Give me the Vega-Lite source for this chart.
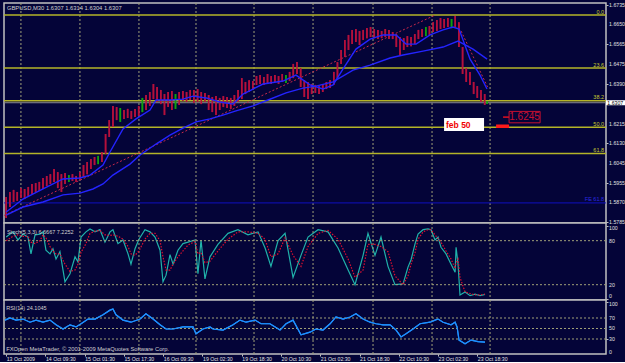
{
"$schema": "https://vega.github.io/schema/vega-lite/v6.json",
"background": "#040438",
"padding": {"left": 1, "top": 1, "right": 0, "bottom": 0},
"spacing": 0,
"bounds": "flush",
"config": {
 "view": {"stroke": "#c0c0c0", "strokeWidth": 1.5, "fill": "#040438"},
 "axis": {"labelFont": "Liberation Sans", "labelFontSize": 5.2, "labelColor": "#e0e0e0", "tickColor": "#c0c0c0", "tickSize": 2, "domain": false, "grid": false, "labelOverlap": false},
 "text": {"font": "Liberation Sans"}
},
"datasets": {
 "grid": [{"b": 12.0}, {"b": 60.1}, {"b": 108.2}, {"b": 154.7}, {"b": 202.0}, {"b": 250.1}, {"b": 299.0}, {"b": 347.1}, {"b": 394.4}],
 "fib": [{"t": "0.0", "p": 1.6691}, {"t": "23.6", "p": 1.6459}, {"t": "38.2", "p": 1.6316}, {"t": "50.0", "p": 1.6200}, {"t": "61.8", "p": 1.6084}],
 "trend": [{"g": "a", "b": -1.8, "p": 1.5813}, {"g": "a", "b": 349.6, "p": 1.6691}, {"g": "b", "b": 370.8, "p": 1.6621}, {"g": "b", "b": 392.8, "p": 1.6371}],
 "ylab": [{"v": 1.6735}, {"v": 1.665}, {"v": 1.6565}, {"v": 1.6475}, {"v": 1.639}, {"v": 1.6215}, {"v": 1.613}, {"v": 1.6045}, {"v": 1.5955}, {"v": 1.587}, {"v": 1.5785}],
 "bars": [
  {"b":0,"h":1.5894,"l":1.5802,"c":"d"},{"b":3,"h":1.5916,"l":1.5850,"c":"d"},{"b":6,"h":1.5925,"l":1.5872,"c":"d"},{"b":9,"h":1.5916,"l":1.5877,"c":"d"},
  {"b":12,"h":1.5933,"l":1.5890,"c":"d"},{"b":15,"h":1.5929,"l":1.5885,"c":"d"},{"b":18,"h":1.5938,"l":1.5898,"c":"d"},{"b":21,"h":1.5951,"l":1.5907,"c":"d"},
  {"b":24,"h":1.5955,"l":1.5916,"c":"d"},{"b":27,"h":1.5960,"l":1.5920,"c":"d"},{"b":30,"h":1.5977,"l":1.5929,"c":"d"},{"b":33,"h":1.5986,"l":1.5942,"c":"d"},
  {"b":36,"h":1.5994,"l":1.5951,"c":"d"},{"b":39,"h":1.6017,"l":1.5960,"c":"d"},{"b":42,"h":1.6003,"l":1.5933,"c":"d"},{"b":45,"h":1.5994,"l":1.5916,"c":"d"},
  {"b":48,"h":1.5999,"l":1.5951,"c":"d"},{"b":51,"h":1.5990,"l":1.5960,"c":"u"},{"b":54,"h":1.5994,"l":1.5964,"c":"d"},{"b":57,"h":1.5986,"l":1.5960,"c":"d"},
  {"b":60,"h":1.6003,"l":1.5968,"c":"d"},{"b":63,"h":1.6034,"l":1.5982,"c":"d"},{"b":66,"h":1.6047,"l":1.5994,"c":"d"},{"b":69,"h":1.6060,"l":1.6017,"c":"d"},
  {"b":72,"h":1.6069,"l":1.6034,"c":"d"},{"b":75,"h":1.6074,"l":1.6038,"c":"u"},{"b":78,"h":1.6091,"l":1.6047,"c":"d"},{"b":81,"h":1.6170,"l":1.6082,"c":"d"},
  {"b":84,"h":1.6231,"l":1.6157,"c":"d"},{"b":87,"h":1.6293,"l":1.6201,"c":"d"},{"b":90,"h":1.6288,"l":1.6231,"c":"d"},{"b":93,"h":1.6284,"l":1.6223,"c":"u"},
  {"b":96,"h":1.6275,"l":1.6236,"c":"d"},{"b":99,"h":1.6280,"l":1.6240,"c":"d"},{"b":102,"h":1.6271,"l":1.6236,"c":"d"},{"b":105,"h":1.6280,"l":1.6244,"c":"d"},
  {"b":108,"h":1.6293,"l":1.6249,"c":"d"},{"b":111,"h":1.6328,"l":1.6266,"c":"u"},{"b":114,"h":1.6341,"l":1.6275,"c":"d"},{"b":117,"h":1.6354,"l":1.6293,"c":"d"},
  {"b":120,"h":1.6389,"l":1.6323,"c":"d"},{"b":123,"h":1.6376,"l":1.6310,"c":"d"},{"b":126,"h":1.6363,"l":1.6301,"c":"d"},{"b":129,"h":1.6345,"l":1.6253,"c":"d"},
  {"b":132,"h":1.6354,"l":1.6288,"c":"d"},{"b":135,"h":1.6358,"l":1.6275,"c":"d"},{"b":138,"h":1.6345,"l":1.6280,"c":"u"},{"b":141,"h":1.6354,"l":1.6297,"c":"d"},
  {"b":144,"h":1.6358,"l":1.6315,"c":"d"},{"b":147,"h":1.6354,"l":1.6310,"c":"d"},{"b":150,"h":1.6363,"l":1.6319,"c":"d"},{"b":153,"h":1.6363,"l":1.6306,"c":"d"},
  {"b":156,"h":1.6367,"l":1.6310,"c":"d"},{"b":159,"h":1.6354,"l":1.6301,"c":"d"},{"b":162,"h":1.6350,"l":1.6310,"c":"d"},{"b":165,"h":1.6341,"l":1.6275,"c":"d"},
  {"b":168,"h":1.6332,"l":1.6266,"c":"d"},{"b":171,"h":1.6336,"l":1.6253,"c":"d"},{"b":174,"h":1.6328,"l":1.6275,"c":"d"},{"b":177,"h":1.6336,"l":1.6288,"c":"d"},
  {"b":180,"h":1.6332,"l":1.6284,"c":"d"},{"b":183,"h":1.6328,"l":1.6280,"c":"d"},{"b":186,"h":1.6341,"l":1.6293,"c":"d"},{"b":189,"h":1.6363,"l":1.6310,"c":"d"},
  {"b":192,"h":1.6415,"l":1.6323,"c":"d"},{"b":195,"h":1.6398,"l":1.6345,"c":"d"},{"b":198,"h":1.6406,"l":1.6354,"c":"d"},{"b":201,"h":1.6402,"l":1.6363,"c":"d"},
  {"b":204,"h":1.6424,"l":1.6385,"c":"d"},{"b":207,"h":1.6428,"l":1.6389,"c":"d"},{"b":210,"h":1.6420,"l":1.6385,"c":"d"},{"b":213,"h":1.6433,"l":1.6393,"c":"d"},
  {"b":216,"h":1.6424,"l":1.6389,"c":"d"},{"b":219,"h":1.6428,"l":1.6398,"c":"d"},{"b":222,"h":1.6424,"l":1.6389,"c":"d"},{"b":225,"h":1.6433,"l":1.6398,"c":"d"},
  {"b":228,"h":1.6428,"l":1.6393,"c":"u"},{"b":231,"h":1.6442,"l":1.6402,"c":"d"},{"b":234,"h":1.6477,"l":1.6415,"c":"d"},{"b":237,"h":1.6485,"l":1.6433,"c":"d"},
  {"b":240,"h":1.6459,"l":1.6376,"c":"d"},{"b":243,"h":1.6406,"l":1.6332,"c":"d"},{"b":246,"h":1.6398,"l":1.6323,"c":"d"},{"b":249,"h":1.6389,"l":1.6345,"c":"d"},
  {"b":252,"h":1.6385,"l":1.6350,"c":"d"},{"b":255,"h":1.6380,"l":1.6345,"c":"d"},{"b":258,"h":1.6389,"l":1.6354,"c":"d"},{"b":261,"h":1.6398,"l":1.6367,"c":"d"},
  {"b":264,"h":1.6406,"l":1.6371,"c":"d"},{"b":267,"h":1.6442,"l":1.6385,"c":"d"},{"b":270,"h":1.6485,"l":1.6415,"c":"d"},{"b":273,"h":1.6538,"l":1.6477,"c":"d"},
  {"b":276,"h":1.6582,"l":1.6507,"c":"d"},{"b":279,"h":1.6604,"l":1.6538,"c":"d"},{"b":282,"h":1.6626,"l":1.6564,"c":"d"},{"b":285,"h":1.6630,"l":1.6573,"c":"d"},
  {"b":288,"h":1.6621,"l":1.6560,"c":"d"},{"b":291,"h":1.6626,"l":1.6582,"c":"d"},{"b":294,"h":1.6634,"l":1.6590,"c":"d"},{"b":297,"h":1.6639,"l":1.6595,"c":"d"},
  {"b":300,"h":1.6630,"l":1.6590,"c":"d"},{"b":303,"h":1.6626,"l":1.6586,"c":"d"},{"b":306,"h":1.6621,"l":1.6590,"c":"d"},{"b":309,"h":1.6630,"l":1.6595,"c":"d"},
  {"b":312,"h":1.6626,"l":1.6586,"c":"d"},{"b":315,"h":1.6617,"l":1.6586,"c":"d"},{"b":318,"h":1.6608,"l":1.6551,"c":"d"},{"b":321,"h":1.6595,"l":1.6516,"c":"d"},
  {"b":324,"h":1.6590,"l":1.6538,"c":"d"},{"b":327,"h":1.6599,"l":1.6551,"c":"d"},{"b":330,"h":1.6595,"l":1.6555,"c":"d"},{"b":333,"h":1.6608,"l":1.6564,"c":"d"},
  {"b":336,"h":1.6626,"l":1.6586,"c":"d"},{"b":339,"h":1.6630,"l":1.6595,"c":"d"},{"b":342,"h":1.6639,"l":1.6599,"c":"u"},{"b":345,"h":1.6643,"l":1.6604,"c":"d"},
  {"b":348,"h":1.6660,"l":1.6617,"c":"d"},{"b":351,"h":1.6669,"l":1.6621,"c":"d"},{"b":354,"h":1.6678,"l":1.6630,"c":"d"},{"b":357,"h":1.6674,"l":1.6634,"c":"d"},
  {"b":360,"h":1.6678,"l":1.6639,"c":"d"},{"b":363,"h":1.6674,"l":1.6634,"c":"u"},{"b":366,"h":1.6687,"l":1.6639,"c":"d"},{"b":369,"h":1.6660,"l":1.6551,"c":"d"},
  {"b":372,"h":1.6551,"l":1.6433,"c":"d"},{"b":375,"h":1.6459,"l":1.6398,"c":"d"},{"b":378,"h":1.6442,"l":1.6385,"c":"d"},{"b":381,"h":1.6398,"l":1.6345,"c":"d"},
  {"b":384,"h":1.6380,"l":1.6328,"c":"d"},{"b":387,"h":1.6363,"l":1.6310,"c":"d"},{"b":390,"h":1.6345,"l":1.6297,"c":"d"},{"b":392,"h":1.6315,"l":1.6301,"c":"u"}
 ],
 "ma": [
  {"s":"f","b":0,"p":1.5828},{"s":"f","b":13.7,"p":1.5885},{"s":"f","b":30,"p":1.5929},{"s":"f","b":46.3,"p":1.5973},{"s":"f","b":60.1,"p":1.5977},
  {"s":"f","b":68.3,"p":1.5990},{"s":"f","b":78.9,"p":1.6034},{"s":"f","b":84.6,"p":1.6091},{"s":"f","b":95.2,"p":1.6192},{"s":"f","b":105.8,"p":1.6236},
  {"s":"f","b":117.2,"p":1.6275},{"s":"f","b":122.1,"p":1.6319},{"s":"f","b":133.5,"p":1.6319},{"s":"f","b":144.1,"p":1.6323},{"s":"f","b":152.3,"p":1.6336},
  {"s":"f","b":162.9,"p":1.6328},{"s":"f","b":174.3,"p":1.6310},{"s":"f","b":184.9,"p":1.6301},{"s":"f","b":193,"p":1.6345},{"s":"f","b":201.2,"p":1.6367},
  {"s":"f","b":209.3,"p":1.6389},{"s":"f","b":225.6,"p":1.6402},{"s":"f","b":236.2,"p":1.6428},{"s":"f","b":247.6,"p":1.6385},{"s":"f","b":258.2,"p":1.6367},
  {"s":"f","b":266.4,"p":1.6385},{"s":"f","b":274.6,"p":1.6455},{"s":"f","b":285.1,"p":1.6542},{"s":"f","b":296.6,"p":1.6586},{"s":"f","b":307.2,"p":1.6604},
  {"s":"f","b":317.8,"p":1.6604},{"s":"f","b":325.9,"p":1.6564},{"s":"f","b":334.1,"p":1.6564},{"s":"f","b":345.5,"p":1.6604},{"s":"f","b":356.1,"p":1.6626},
  {"s":"f","b":364.2,"p":1.6639},{"s":"f","b":369.1,"p":1.6630},{"s":"f","b":378.1,"p":1.6498},{"s":"f","b":386.2,"p":1.6428},{"s":"f","b":391.9,"p":1.6367},
  {"s":"s","b":0,"p":1.5815},{"s":"s","b":13.7,"p":1.5850},{"s":"s","b":30,"p":1.5872},{"s":"s","b":46.3,"p":1.5903},{"s":"s","b":60.1,"p":1.5911},
  {"s":"s","b":70.7,"p":1.5929},{"s":"s","b":78.9,"p":1.5951},{"s":"s","b":87,"p":1.5990},{"s":"s","b":100.9,"p":1.6038},{"s":"s","b":109.1,"p":1.6078},
  {"s":"s","b":122.1,"p":1.6126},{"s":"s","b":133.5,"p":1.6165},{"s":"s","b":144.1,"p":1.6196},{"s":"s","b":154.7,"p":1.6223},{"s":"s","b":166.1,"p":1.6236},
  {"s":"s","b":176.7,"p":1.6253},{"s":"s","b":187.3,"p":1.6271},{"s":"s","b":201.2,"p":1.6293},{"s":"s","b":213.4,"p":1.6319},{"s":"s","b":228.1,"p":1.6350},
  {"s":"s","b":241.9,"p":1.6371},{"s":"s","b":252.5,"p":1.6380},{"s":"s","b":266.4,"p":1.6398},{"s":"s","b":282.7,"p":1.6450},{"s":"s","b":296.6,"p":1.6472},
  {"s":"s","b":312.9,"p":1.6503},{"s":"s","b":323.5,"p":1.6516},{"s":"s","b":339.8,"p":1.6533},{"s":"s","b":356.1,"p":1.6551},{"s":"s","b":368.3,"p":1.6577},
  {"s":"s","b":380.5,"p":1.6542},{"s":"s","b":392,"p":1.6498}
 ],
 "stoch": [
  {"b":0,"k":85,"d":80},{"b":5.5,"k":92,"d":86},{"b":9.6,"k":81,"d":88},{"b":13.7,"k":89,"d":86},{"b":17.7,"k":85,"d":86},{"b":20.2,"k":62,"d":78},
  {"b":23.5,"k":88,"d":76},{"b":27.5,"k":89,"d":80},{"b":30,"k":92,"d":88},{"b":32.4,"k":67,"d":84},{"b":35.7,"k":62,"d":72},{"b":38.1,"k":69,"d":66},
  {"b":40.6,"k":55,"d":62},{"b":43.8,"k":65,"d":62},{"b":47.9,"k":24,"d":48},{"b":52,"k":35,"d":38},{"b":56.1,"k":58,"d":40},{"b":58.5,"k":51,"d":48},
  {"b":61,"k":85,"d":64},{"b":65,"k":92,"d":76},{"b":68.3,"k":96,"d":90},{"b":72.4,"k":92,"d":93},{"b":76.4,"k":95,"d":94},{"b":80.5,"k":78,"d":88},
  {"b":84.6,"k":92,"d":87},{"b":87,"k":95,"d":88},{"b":91.1,"k":76,"d":86},{"b":95.2,"k":81,"d":82},{"b":99.3,"k":62,"d":72},{"b":101.7,"k":48,"d":62},
  {"b":105,"k":69,"d":60},{"b":108.2,"k":82,"d":66},{"b":113.1,"k":95,"d":82},{"b":117.2,"k":92,"d":90},{"b":121.3,"k":85,"d":90},{"b":125.4,"k":67,"d":80},
  {"b":127.8,"k":24,"d":58},{"b":130.3,"k":33,"d":40},{"b":133.5,"k":61,"d":40},{"b":136,"k":48,"d":48},{"b":140,"k":67,"d":58},{"b":144.1,"k":76,"d":66},
  {"b":148.2,"k":78,"d":74},{"b":153.9,"k":81,"d":79},{"b":156.3,"k":35,"d":62},{"b":158.8,"k":81,"d":64},{"b":162,"k":28,"d":50},{"b":166.1,"k":58,"d":52},
  {"b":172.6,"k":75,"d":66},{"b":180.8,"k":90,"d":82},{"b":188.9,"k":95,"d":92},{"b":197.1,"k":88,"d":92},{"b":205.3,"k":92,"d":90},{"b":211,"k":70,"d":82},
  {"b":215.8,"k":45,"d":58},{"b":221.6,"k":80,"d":62},{"b":227.3,"k":90,"d":84},{"b":233.8,"k":30,"d":60},{"b":240.3,"k":60,"d":45},{"b":246,"k":85,"d":72},
  {"b":254.2,"k":95,"d":90},{"b":262.3,"k":92,"d":94},{"b":270.5,"k":70,"d":82},{"b":278.7,"k":40,"d":55},{"b":284.3,"k":20,"d":30},{"b":290.9,"k":60,"d":40},
  {"b":294.9,"k":90,"d":75},{"b":300.6,"k":60,"d":75},{"b":305.5,"k":85,"d":72},{"b":311.2,"k":45,"d":65},{"b":316.9,"k":20,"d":32},{"b":323.5,"k":21,"d":20},
  {"b":327.5,"k":44,"d":32},{"b":330,"k":54,"d":48},{"b":333.3,"k":76,"d":64},{"b":335.7,"k":89,"d":82},{"b":339.8,"k":95,"d":92},{"b":343.8,"k":96,"d":95},
  {"b":346.3,"k":95,"d":95},{"b":349.5,"k":81,"d":88},{"b":352,"k":85,"d":83},{"b":354.4,"k":71,"d":78},{"b":358.5,"k":62,"d":66},{"b":362.6,"k":48,"d":55},
  {"b":365.9,"k":37,"d":42},{"b":366.7,"k":71,"d":50},{"b":368.3,"k":48,"d":55},{"b":369.9,"k":6,"d":30},{"b":374,"k":10,"d":10},{"b":378.1,"k":5,"d":8},
  {"b":382.2,"k":7,"d":6},{"b":386.2,"k":5,"d":6},{"b":390.3,"k":6.67,"d":7.23}
 ],
 "rsi": [
  {"b":-1,"r":66},{"b":3.1,"r":70},{"b":8,"r":66},{"b":13.7,"r":68},{"b":19.4,"r":62},{"b":24.3,"r":66},{"b":30,"r":62},{"b":35.7,"r":66},
  {"b":40.6,"r":57},{"b":46.3,"r":49},{"b":52,"r":57},{"b":56.9,"r":53},{"b":61,"r":59},{"b":66.7,"r":68},{"b":72.4,"r":68},{"b":78.9,"r":76},
  {"b":84.6,"r":85},{"b":87,"r":87},{"b":89.5,"r":76},{"b":95.2,"r":66},{"b":101.7,"r":62},{"b":109.1,"r":68},{"b":113.9,"r":78},{"b":119.7,"r":68},
  {"b":125.4,"r":57},{"b":130.3,"r":49},{"b":136,"r":49},{"b":144.1,"r":53},{"b":152.3,"r":53},{"b":154.7,"r":40},{"b":160.4,"r":49},{"b":166.1,"r":53},
  {"b":168.6,"r":49},{"b":176.7,"r":47},{"b":184.9,"r":57},{"b":190.6,"r":66},{"b":195.5,"r":62},{"b":202.8,"r":66},{"b":207.7,"r":59},{"b":215,"r":59},
  {"b":223.2,"r":47},{"b":228.1,"r":59},{"b":233.8,"r":66},{"b":240.3,"r":38},{"b":247.6,"r":43},{"b":252.5,"r":49},{"b":258.2,"r":47},{"b":264,"r":59},
  {"b":268.8,"r":72},{"b":274.6,"r":68},{"b":280.3,"r":72},{"b":285.1,"r":78},{"b":290.9,"r":68},{"b":296.6,"r":62},{"b":301.5,"r":59},{"b":307.2,"r":57},
  {"b":312.9,"r":57},{"b":317.8,"r":47},{"b":321.8,"r":34},{"b":325.9,"r":40},{"b":331.6,"r":49},{"b":337.3,"r":59},{"b":345.5,"r":62},{"b":349.6,"r":66},
  {"b":352,"r":68},{"b":356.1,"r":62},{"b":362.6,"r":57},{"b":365.9,"r":62},{"b":367.5,"r":53},{"b":369.1,"r":28},{"b":374,"r":21},{"b":378.9,"r":28},
  {"b":384.6,"r":25},{"b":390.3,"r":24.1}
 ]
},
"vconcat": [
 {
  "width": 602, "height": 220,
  "layer": [
   {"data": {"name": "bars"}, "mark": {"type": "rule", "strokeWidth": 1.6},
    "encoding": {"x": {"field": "b", "type": "quantitative", "scale": {"domain": [-1.8, 488.9], "nice": false, "zero": false}, "axis": null},
     "y": {"field": "h", "type": "quantitative", "scale": {"domain": [1.5780, 1.6744], "nice": false, "zero": false},
      "axis": {"orient": "right", "title": null, "values": [1.6735, 1.665, 1.6565, 1.6475, 1.639, 1.6215, 1.613, 1.6045, 1.5955, 1.587, 1.5785], "labels": false}},
     "y2": {"field": "l"},
     "color": {"field": "c", "type": "nominal", "scale": {"domain": ["d", "u"], "range": ["#b4103c", "#10a010"]}, "legend": null}}},
   {"data": {"name": "grid"}, "mark": {"type": "rule", "color": "#a0a078", "strokeDash": [2, 2], "strokeWidth": 1},
    "encoding": {"x": {"field": "b", "type": "quantitative", "scale": {"domain": [-1.8, 488.9], "nice": false, "zero": false}, "axis": null}}},
   {"data": {"name": "fib"}, "mark": {"type": "rule", "color": "#b4b428", "strokeWidth": 1.5},
    "encoding": {"y": {"field": "p", "type": "quantitative", "scale": {"domain": [1.5780, 1.6744], "nice": false, "zero": false}}}},
   {"data": {"values": [{"p": 1.5868}]}, "mark": {"type": "rule", "color": "#1010c0", "strokeWidth": 1},
    "encoding": {"y": {"field": "p", "type": "quantitative", "scale": {"domain": [1.5780, 1.6744], "nice": false, "zero": false}}}},
   {"data": {"values": [{"p": 1.6307}]}, "mark": {"type": "rule", "color": "#8c8c8c", "strokeWidth": 1},
    "encoding": {"y": {"field": "p", "type": "quantitative", "scale": {"domain": [1.5780, 1.6744], "nice": false, "zero": false}}}},
   {"data": {"name": "trend"}, "mark": {"type": "line", "color": "#c8284a", "strokeWidth": 1, "strokeDash": [2, 2]},
    "encoding": {"x": {"field": "b", "type": "quantitative", "scale": {"domain": [-1.8, 488.9], "nice": false, "zero": false}, "axis": null},
     "y": {"field": "p", "type": "quantitative", "scale": {"domain": [1.5780, 1.6744], "nice": false, "zero": false}},
     "detail": {"field": "g"}}},
   {"data": {"name": "bars"}, "mark": {"type": "rule", "strokeWidth": 1.6},
    "encoding": {"x": {"field": "b", "type": "quantitative", "scale": {"domain": [-1.8, 488.9], "nice": false, "zero": false}, "axis": null},
     "y": {"field": "h", "type": "quantitative", "scale": {"domain": [1.5780, 1.6744], "nice": false, "zero": false}},
     "y2": {"field": "l"},
     "color": {"field": "c", "type": "nominal", "scale": {"domain": ["d", "u"], "range": ["#b4103c", "#10a010"]}, "legend": null}}},
   {"data": {"name": "ma"}, "mark": {"type": "line", "color": "#2424ff", "strokeWidth": 1.4},
    "encoding": {"x": {"field": "b", "type": "quantitative", "scale": {"domain": [-1.8, 488.9], "nice": false, "zero": false}, "axis": null},
     "y": {"field": "p", "type": "quantitative", "scale": {"domain": [1.5780, 1.6744], "nice": false, "zero": false}},
     "detail": {"field": "s"}}},
   {"data": {"name": "fib"}, "mark": {"type": "text", "align": "right", "baseline": "bottom", "dy": -0.5, "fontSize": 5.5, "color": "#c8c832"},
    "encoding": {"x": {"datum": 487.3, "type": "quantitative", "scale": {"domain": [-1.8, 488.9], "nice": false, "zero": false}, "axis": null},
     "y": {"field": "p", "type": "quantitative", "scale": {"domain": [1.5780, 1.6744], "nice": false, "zero": false}},
     "text": {"field": "t"}}},
   {"data": {"values": [{"p": 1.5868, "t": "FE 61.8"}]}, "mark": {"type": "text", "align": "right", "baseline": "bottom", "dy": -0.5, "fontSize": 5.5, "color": "#2a2ae0"},
    "encoding": {"x": {"datum": 487.3, "type": "quantitative", "scale": {"domain": [-1.8, 488.9], "nice": false, "zero": false}, "axis": null},
     "y": {"field": "p", "type": "quantitative", "scale": {"domain": [1.5780, 1.6744], "nice": false, "zero": false}},
     "text": {"field": "t"}}},
   {"data": {"values": [{"t": "GBPUSD,M30  1.6307 1.6314 1.6304 1.6307"}]}, "mark": {"type": "text", "align": "left", "baseline": "middle", "fontSize": 5.8, "color": "#d0d0d0"},
    "encoding": {"x": {"datum": 0.6, "type": "quantitative", "scale": {"domain": [-1.8, 488.9], "nice": false, "zero": false}, "axis": null},
     "y": {"datum": 1.6722, "type": "quantitative", "scale": {"domain": [1.5780, 1.6744], "nice": false, "zero": false}},
     "text": {"field": "t"}}},
   {"data": {"values": [{"b": 356.9, "b2": 389.5, "p": 1.6240, "p2": 1.6183}]}, "mark": {"type": "rect", "fill": "#ffffff"},
    "encoding": {"x": {"field": "b", "type": "quantitative", "scale": {"domain": [-1.8, 488.9], "nice": false, "zero": false}, "axis": null}, "x2": {"field": "b2"},
     "y": {"field": "p", "type": "quantitative", "scale": {"domain": [1.5780, 1.6744], "nice": false, "zero": false}}, "y2": {"field": "p2"}}},
   {"data": {"values": [{"t": "feb 50"}]}, "mark": {"type": "text", "align": "left", "baseline": "middle", "fontSize": 8.5, "fontWeight": "bold", "color": "#f00000"},
    "encoding": {"x": {"datum": 358.5, "type": "quantitative", "scale": {"domain": [-1.8, 488.9], "nice": false, "zero": false}, "axis": null},
     "y": {"datum": 1.6209, "type": "quantitative", "scale": {"domain": [1.5780, 1.6744], "nice": false, "zero": false}},
     "text": {"field": "t"}}},
   {"data": {"values": [{"b": 399.3, "b2": 409.9, "p": 1.6204}]}, "mark": {"type": "rule", "color": "#ff1a1a", "strokeWidth": 3.5},
    "encoding": {"x": {"field": "b", "type": "quantitative", "scale": {"domain": [-1.8, 488.9], "nice": false, "zero": false}, "axis": null}, "x2": {"field": "b2"},
     "y": {"field": "p", "type": "quantitative", "scale": {"domain": [1.5780, 1.6744], "nice": false, "zero": false}}}},
   {"data": {"values": [{"b": 405, "b2": 409.9, "p": 1.6244}]}, "mark": {"type": "rule", "color": "#e01020", "strokeWidth": 1.5},
    "encoding": {"x": {"field": "b", "type": "quantitative", "scale": {"domain": [-1.8, 488.9], "nice": false, "zero": false}, "axis": null}, "x2": {"field": "b2"},
     "y": {"field": "p", "type": "quantitative", "scale": {"domain": [1.5780, 1.6744], "nice": false, "zero": false}}}},
   {"data": {"values": [{"b": 409.9, "b2": 435.2, "p": 1.6269, "p2": 1.6219}]}, "mark": {"type": "rect", "fill": null, "stroke": "#c81030", "strokeWidth": 1},
    "encoding": {"x": {"field": "b", "type": "quantitative", "scale": {"domain": [-1.8, 488.9], "nice": false, "zero": false}, "axis": null}, "x2": {"field": "b2"},
     "y": {"field": "p", "type": "quantitative", "scale": {"domain": [1.5780, 1.6744], "nice": false, "zero": false}}, "y2": {"field": "p2"}}},
   {"data": {"values": [{"t": "1.6245"}]}, "mark": {"type": "text", "align": "center", "baseline": "middle", "fontSize": 10, "color": "#c81030"},
    "encoding": {"x": {"datum": 422.5, "type": "quantitative", "scale": {"domain": [-1.8, 488.9], "nice": false, "zero": false}, "axis": null},
     "y": {"datum": 1.6244, "type": "quantitative", "scale": {"domain": [1.5780, 1.6744], "nice": false, "zero": false}},
     "text": {"field": "t"}}},
   {"data": {"name": "ylab"}, "mark": {"type": "text", "align": "left", "baseline": "middle", "fontSize": 5.2, "color": "#e0e0e0"},
    "encoding": {"x": {"datum": 491.4, "type": "quantitative", "scale": {"domain": [-1.8, 488.9], "nice": false, "zero": false}, "axis": null},
     "y": {"field": "v", "type": "quantitative", "scale": {"domain": [1.5780, 1.6744], "nice": false, "zero": false}},
     "text": {"field": "v", "type": "quantitative", "format": ".4f"}}},
   {"data": {"values": [{"b": 488.9, "b2": 504.5, "p": 1.6318, "p2": 1.6296}]}, "mark": {"type": "rect", "fill": "#ffffff"},
    "encoding": {"x": {"field": "b", "type": "quantitative", "scale": {"domain": [-1.8, 488.9], "nice": false, "zero": false}, "axis": null}, "x2": {"field": "b2"},
     "y": {"field": "p", "type": "quantitative", "scale": {"domain": [1.5780, 1.6744], "nice": false, "zero": false}}, "y2": {"field": "p2"}}},
   {"data": {"values": [{"t": "1.6307"}]}, "mark": {"type": "text", "align": "left", "baseline": "middle", "fontSize": 5.2, "color": "#000000"},
    "encoding": {"x": {"datum": 490.0, "type": "quantitative", "scale": {"domain": [-1.8, 488.9], "nice": false, "zero": false}, "axis": null},
     "y": {"datum": 1.6307, "type": "quantitative", "scale": {"domain": [1.5780, 1.6744], "nice": false, "zero": false}},
     "text": {"field": "t"}}}
  ]
 },
 {
  "width": 602, "height": 77,
  "layer": [
   {"data": {"name": "stoch"}, "mark": {"type": "line", "color": "#20b2aa", "strokeWidth": 1.2},
    "encoding": {"x": {"field": "b", "type": "quantitative", "scale": {"domain": [-1.8, 488.9], "nice": false, "zero": false}, "axis": null},
     "y": {"field": "k", "type": "quantitative", "scale": {"domain": [-0.86, 104.1], "nice": false, "zero": false},
      "axis": {"orient": "right", "title": null, "values": [100, 80, 20, 0], "labels": false}}}},
   {"data": {"name": "grid"}, "mark": {"type": "rule", "color": "#a0a078", "strokeDash": [2, 2], "strokeWidth": 1},
    "encoding": {"x": {"field": "b", "type": "quantitative", "scale": {"domain": [-1.8, 488.9], "nice": false, "zero": false}, "axis": null}}},
   {"data": {"values": [{"v": 80}, {"v": 20}]}, "mark": {"type": "rule", "color": "#a0a078", "strokeDash": [2, 2], "strokeWidth": 1},
    "encoding": {"y": {"field": "v", "type": "quantitative", "scale": {"domain": [-0.86, 104.1], "nice": false, "zero": false}}}},
   {"data": {"name": "stoch"}, "mark": {"type": "line", "color": "#e01030", "strokeWidth": 1.2, "strokeDash": [1.5, 1.5]},
    "encoding": {"x": {"field": "b", "type": "quantitative", "scale": {"domain": [-1.8, 488.9], "nice": false, "zero": false}, "axis": null},
     "y": {"field": "d", "type": "quantitative", "scale": {"domain": [-0.86, 104.1], "nice": false, "zero": false}}}},
   {"data": {"values": [{"v": 80}, {"v": 20}]}, "mark": {"type": "text", "align": "left", "baseline": "middle", "fontSize": 5.2, "color": "#e0e0e0"},
    "encoding": {"x": {"datum": 491.4, "type": "quantitative", "scale": {"domain": [-1.8, 488.9], "nice": false, "zero": false}, "axis": null},
     "y": {"field": "v", "type": "quantitative", "scale": {"domain": [-0.86, 104.1], "nice": false, "zero": false}},
     "text": {"field": "v", "type": "quantitative"}}},
   {"data": {"values": [{"v": 100}]}, "mark": {"type": "text", "align": "left", "baseline": "top", "fontSize": 5.2, "color": "#e0e0e0"},
    "encoding": {"x": {"datum": 491.4, "type": "quantitative", "scale": {"domain": [-1.8, 488.9], "nice": false, "zero": false}, "axis": null},
     "y": {"field": "v", "type": "quantitative", "scale": {"domain": [-0.86, 104.1], "nice": false, "zero": false}},
     "text": {"field": "v", "type": "quantitative"}}},
   {"data": {"values": [{"v": 0}]}, "mark": {"type": "text", "align": "left", "baseline": "bottom", "fontSize": 5.2, "color": "#e0e0e0"},
    "encoding": {"x": {"datum": 491.4, "type": "quantitative", "scale": {"domain": [-1.8, 488.9], "nice": false, "zero": false}, "axis": null},
     "y": {"field": "v", "type": "quantitative", "scale": {"domain": [-0.86, 104.1], "nice": false, "zero": false}},
     "text": {"field": "v", "type": "quantitative"}}},
   {"data": {"values": [{"t": "Stoch(5,3,3) 6.6667 7.2252"}]}, "mark": {"type": "text", "align": "left", "baseline": "middle", "fontSize": 5.5, "color": "#d0d0d0"},
    "encoding": {"x": {"datum": 0.6, "type": "quantitative", "scale": {"domain": [-1.8, 488.9], "nice": false, "zero": false}, "axis": null},
     "y": {"datum": 92.5, "type": "quantitative", "scale": {"domain": [-0.86, 104.1], "nice": false, "zero": false}},
     "text": {"field": "t"}}}
  ]
 },
 {
  "width": 602, "height": 54,
  "layer": [
   {"data": {"name": "rsi"}, "mark": {"type": "line", "color": "#1e90ff", "strokeWidth": 1.2},
    "encoding": {"x": {"field": "b", "type": "quantitative", "scale": {"domain": [-1.8, 488.9], "nice": false, "zero": false},
      "axis": {"orient": "bottom", "title": null, "values": [0, 32, 64, 96, 128, 160, 192, 224, 256, 288, 320, 352, 384], "labelAlign": "left", "labelPadding": 0, "tickSize": 2, "labelOverlap": false, "labelBound": false,
       "labelExpr": "['13 Oct 2009','14 Oct 09:30','15 Oct 01:30','15 Oct 17:30','16 Oct 09:30','19 Oct 02:30','19 Oct 18:30','20 Oct 10:30','21 Oct 02:30','21 Oct 18:30','22 Oct 10:30','23 Oct 02:30','23 Oct 18:30'][round(datum.value/32)]"}},
     "y": {"field": "r", "type": "quantitative", "scale": {"domain": [1.4, 104.3], "nice": false, "zero": false},
      "axis": {"orient": "right", "title": null, "values": [100, 70, 50, 30, 0], "labels": false}}}},
   {"data": {"name": "grid"}, "mark": {"type": "rule", "color": "#a0a078", "strokeDash": [2, 2], "strokeWidth": 1},
    "encoding": {"x": {"field": "b", "type": "quantitative", "scale": {"domain": [-1.8, 488.9], "nice": false, "zero": false}}}},
   {"data": {"values": [{"v": 70}, {"v": 50}, {"v": 30}]}, "mark": {"type": "rule", "color": "#a0a078", "strokeDash": [2, 2], "strokeWidth": 1},
    "encoding": {"y": {"field": "v", "type": "quantitative", "scale": {"domain": [1.4, 104.3], "nice": false, "zero": false}}}},
   {"data": {"name": "rsi"}, "mark": {"type": "line", "color": "#1e90ff", "strokeWidth": 1.2},
    "encoding": {"x": {"field": "b", "type": "quantitative", "scale": {"domain": [-1.8, 488.9], "nice": false, "zero": false}},
     "y": {"field": "r", "type": "quantitative", "scale": {"domain": [1.4, 104.3], "nice": false, "zero": false}}}},
   {"data": {"values": [{"v": 70}, {"v": 50}, {"v": 30}]}, "mark": {"type": "text", "align": "left", "baseline": "middle", "fontSize": 5.2, "color": "#e0e0e0"},
    "encoding": {"x": {"datum": 491.4, "type": "quantitative", "scale": {"domain": [-1.8, 488.9], "nice": false, "zero": false}},
     "y": {"field": "v", "type": "quantitative", "scale": {"domain": [1.4, 104.3], "nice": false, "zero": false}},
     "text": {"field": "v", "type": "quantitative"}}},
   {"data": {"values": [{"v": 100}]}, "mark": {"type": "text", "align": "left", "baseline": "top", "fontSize": 5.2, "color": "#e0e0e0"},
    "encoding": {"x": {"datum": 491.4, "type": "quantitative", "scale": {"domain": [-1.8, 488.9], "nice": false, "zero": false}},
     "y": {"field": "v", "type": "quantitative", "scale": {"domain": [1.4, 104.3], "nice": false, "zero": false}},
     "text": {"field": "v", "type": "quantitative"}}},
   {"data": {"values": [{"v": 0}]}, "mark": {"type": "text", "align": "left", "baseline": "bottom", "fontSize": 5.2, "color": "#e0e0e0"},
    "encoding": {"x": {"datum": 491.4, "type": "quantitative", "scale": {"domain": [-1.8, 488.9], "nice": false, "zero": false}},
     "y": {"field": "v", "type": "quantitative", "scale": {"domain": [1.4, 104.3], "nice": false, "zero": false}},
     "text": {"field": "v", "type": "quantitative"}}},
   {"data": {"values": [{"t": "RSI(14) 24.1045"}]}, "mark": {"type": "text", "align": "left", "baseline": "middle", "fontSize": 5.5, "color": "#d0d0d0"},
    "encoding": {"x": {"datum": 0, "type": "quantitative", "scale": {"domain": [-1.8, 488.9], "nice": false, "zero": false}},
     "y": {"datum": 90, "type": "quantitative", "scale": {"domain": [1.4, 104.3], "nice": false, "zero": false}},
     "text": {"field": "t"}}},
   {"data": {"values": [{"t": "FXOpen MetaTrader, © 2001-2009 MetaQuotes Software Corp."}]}, "mark": {"type": "text", "align": "left", "baseline": "middle", "fontSize": 5.8, "color": "#d0d0d0"},
    "encoding": {"x": {"datum": 0, "type": "quantitative", "scale": {"domain": [-1.8, 488.9], "nice": false, "zero": false}},
     "y": {"datum": 10, "type": "quantitative", "scale": {"domain": [1.4, 104.3], "nice": false, "zero": false}},
     "text": {"field": "t"}}}
  ]
 }
]
}
